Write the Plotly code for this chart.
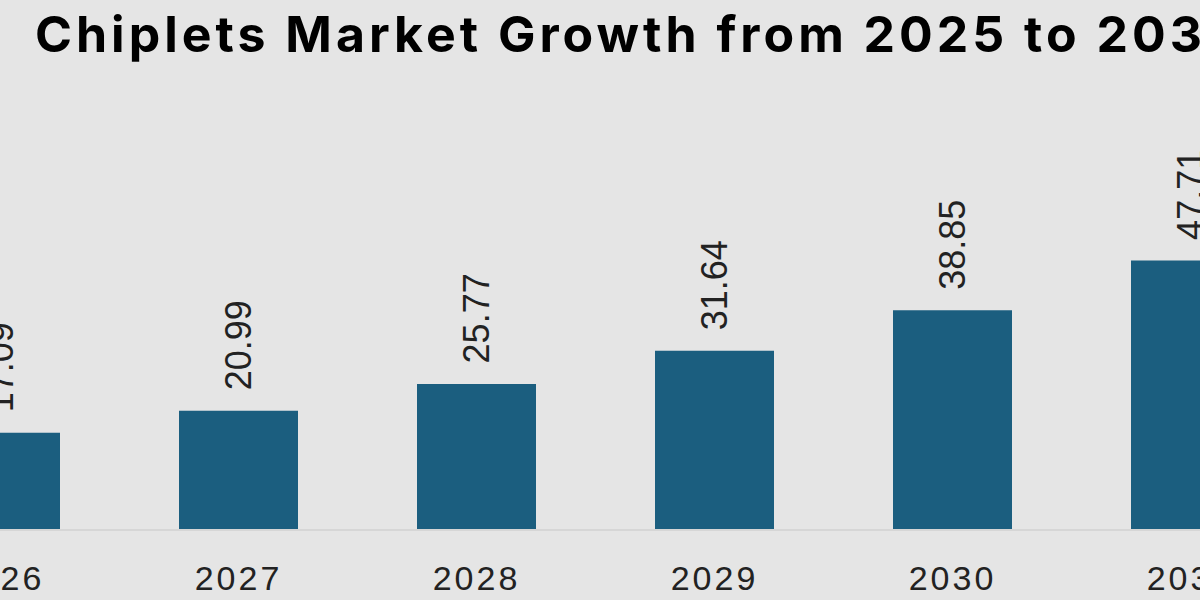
import plotly.graph_objects as go

years = [2026, 2027, 2028, 2029, 2030, 2031]
values = [17.09, 20.99, 25.77, 31.64, 38.85, 47.71]
labels = ["17.09", "20.99", "25.77", "31.64", "38.85", "47.71"]
tick_text = ["2026", "2027", "2028", "2029", "2030", "2031"]
title_text = "Chiplets Market Growth from 2025 to 2034"

BG = "#e5e5e5"
BAR = "#1b5e7f"

fig = go.Figure()
fig.add_trace(go.Bar(
    x=years, y=values, width=0.5,
    marker=dict(color=BAR, line=dict(width=0)),
    hoverinfo="skip",
))

for xv, yv, lab in zip(years, values, labels):
    fig.add_annotation(
        x=xv, y=yv, xref="x", yref="y", text=lab, textangle=-90,
        showarrow=False, yanchor="bottom", xanchor="center", yshift=18,
        font=dict(family="Liberation Sans", size=36, color="#222222"),
    )

px_per_year = 238.0
x0 = 2026 - 0.5 / px_per_year
x1 = x0 + 1200 / px_per_year

fig.update_layout(
    width=1200, height=600,
    margin=dict(l=0, r=0, t=80, b=71, autoexpand=False),
    paper_bgcolor=BG, plot_bgcolor=BG,
    showlegend=False,
    title=dict(
        text=title_text, x=35 / 1200, xref="container", xanchor="left",
        y=1 - 34 / 600, yref="container", yanchor="middle",
        font=dict(family="Inter", size=50, color="#000000", weight="bold"),
    ),
    xaxis=dict(
        range=[x0, x1], tickmode="array", tickvals=years, ticktext=tick_text,
        automargin=False,
        showgrid=False, zeroline=False, showline=True, linecolor="#d6d6d6", linewidth=2,
        ticks="outside", ticklen=18, tickcolor=BG, ticklabeloverflow="allow",
        tickfont=dict(family="Liberation Sans", size=34, color="#222222"),
    ),
    yaxis=dict(
        range=[0, 449 / 5.63], visible=False, automargin=False,
    ),
)

post = """
document.body.style.margin = '0';
document.body.style.overflow = 'hidden';
function spaceText() {
  document.querySelectorAll('.gtitle').forEach(function(e){ e.style.letterSpacing = '4px'; });
  document.querySelectorAll('.xtick text').forEach(function(e){ e.style.letterSpacing = '3px'; });
}
spaceText();
var gd = document.getElementById('{plot_id}');
if (gd && gd.on) { gd.on('plotly_afterplot', spaceText); }
setTimeout(spaceText, 50);
"""

fig.write_html("out.html", post_script=post, config={"displayModeBar": False})
